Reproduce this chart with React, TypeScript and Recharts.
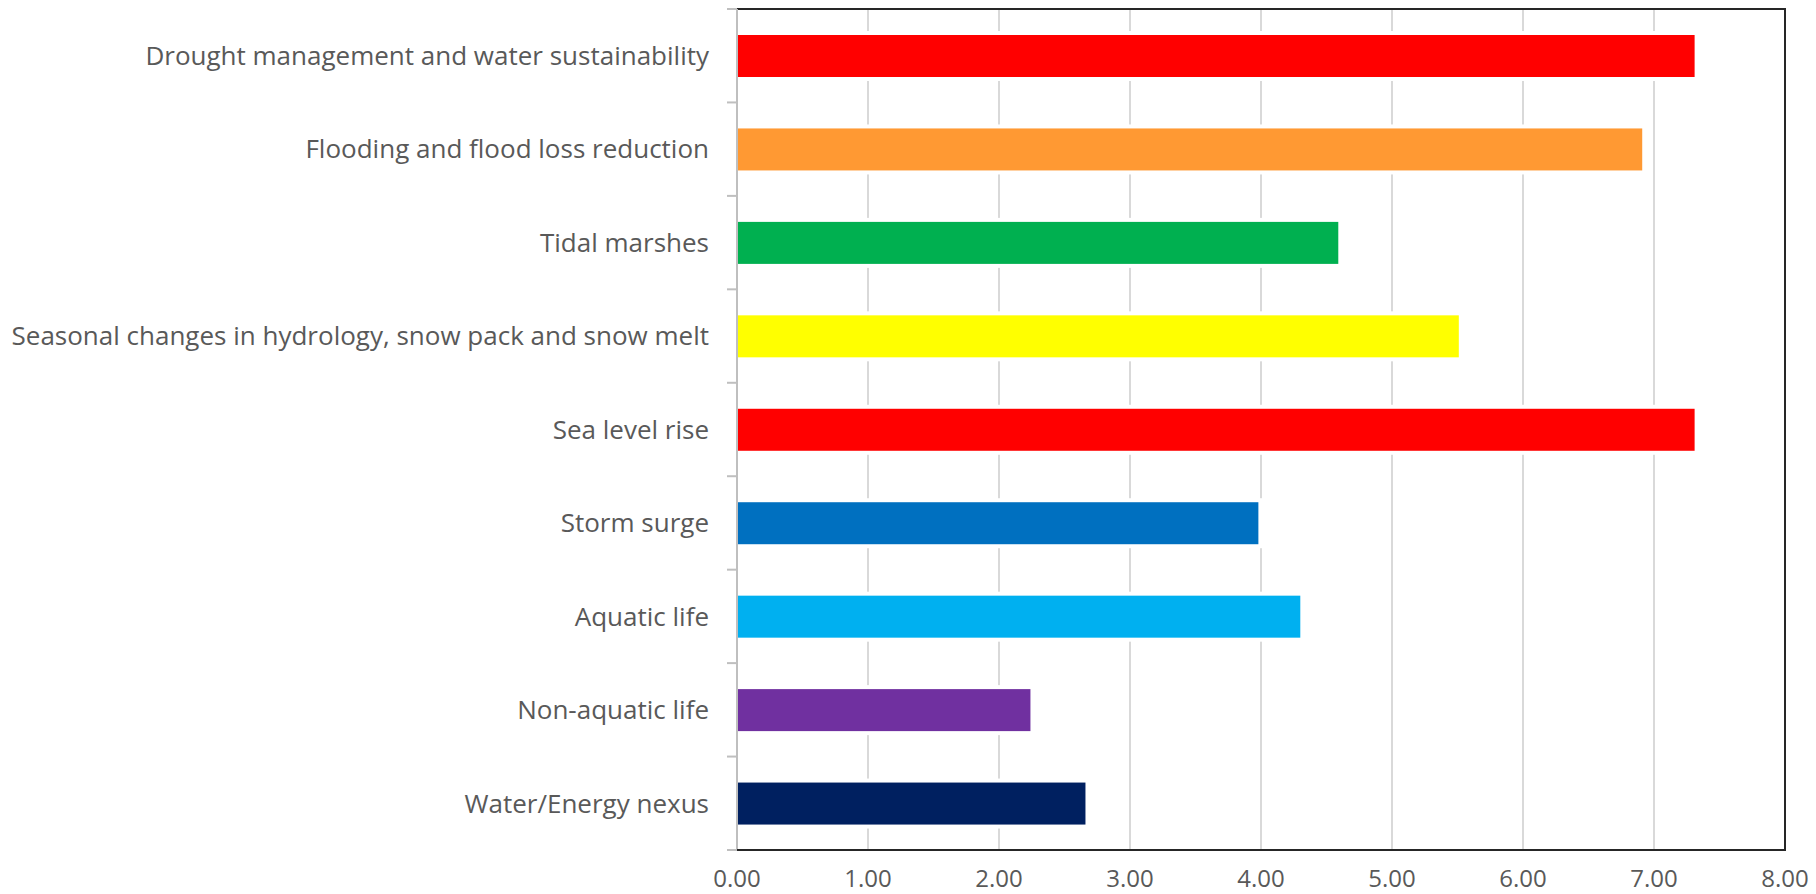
import React from 'react'
import {
  BarChart,
  Bar,
  Cell,
  XAxis,
  YAxis,
  CartesianGrid,
  ReferenceArea,
  ReferenceLine,
} from 'recharts'

// Climate concern topics, top to bottom
const topics = [
  'Drought management and water sustainability',
  'Flooding and flood loss reduction',
  'Tidal marshes',
  'Seasonal changes in hydrology, snow pack and snow melt',
  'Sea level rise',
  'Storm surge',
  'Aquatic life',
  'Non-aquatic life',
  'Water/Energy nexus',
]
const scores = [7.31, 6.91, 4.59, 5.51, 7.31, 3.98, 4.3, 2.24, 2.66]
const barColors = [
  '#FF0000',
  '#FF9933',
  '#00B050',
  '#FFFF00',
  '#FF0000',
  '#0070C0',
  '#00B0F0',
  '#7030A0',
  '#002060',
]
const scoreTicks = [0, 1, 2, 3, 4, 5, 6, 7, 8]

const data = topics.map((name, i) => ({ name, score: scores[i] }))

const labelColor = '#595959'
const axisGray = '#bfbfbf'
const frameColor = '#262626'
const TICK_GAP = 28 // label to axis distance
const TICK_LEN = 10 // boundary tick mark length

// category label plus the tick mark on the band boundary above it
const TopicTick = (props: any) => {
  const { x, y, payload, index, visibleTicksCount } = props
  const half = payload?.offset ?? 0
  const axisX = x + TICK_GAP
  return (
    <g>
      <line
        x1={axisX}
        x2={axisX - TICK_LEN}
        y1={y - half}
        y2={y - half}
        stroke={axisGray}
        strokeWidth={2}
      />
      {index === visibleTicksCount - 1 && (
        <line
          x1={axisX}
          x2={axisX - TICK_LEN}
          y1={y + half}
          y2={y + half}
          stroke={axisGray}
          strokeWidth={2}
        />
      )}
      <text x={x} y={y} dy="0.355em" textAnchor="end" fill={labelColor} fontSize={26}>
        {payload.value}
      </text>
    </g>
  )
}

// bar with a white halo so gridlines stop short of it
const HaloBar = (props: any) => {
  const { x, y, width, height, fill } = props
  if (width == null || height == null) return null
  return (
    <g>
      <rect x={x} y={y - 4} width={width + 4} height={height + 8} fill="#fff" />
      <rect x={x} y={y} width={width} height={height} fill={fill} />
    </g>
  )
}

export default function App() {
  return (
    <div
      style={{
        position: 'absolute',
        left: 0,
        top: 0,
        width: 1816,
        height: 894,
        background: '#fff',
        fontFamily: '"Open Sans", sans-serif',
      }}
    >
      <BarChart
        width={1816}
        height={894}
        data={data}
        layout="vertical"
        margin={{ top: 9, right: 31, bottom: 0, left: 0 }}
      >
        <CartesianGrid
          xAxisId="val"
          yAxisId="cat"
          horizontal={false}
          stroke="#d9d9d9"
          strokeWidth={2}
        />
        <YAxis
          yAxisId="cat"
          type="category"
          dataKey="name"
          width={737}
          interval={0}
          axisLine={false}
          tickLine={false}
          tickSize={0}
          tickMargin={TICK_GAP}
          tick={TopicTick}
        />
        <XAxis
          xAxisId="val"
          type="number"
          domain={[0, 8]}
          ticks={scoreTicks}
          height={44}
          tickLine={false}
          tickSize={0}
          tickMargin={20}
          tickFormatter={(v: number) => v.toFixed(2)}
          tick={{ fill: labelColor, fontSize: 24 }}
          stroke={frameColor}
          axisLine={{ stroke: frameColor, strokeWidth: 2 }}
        />
        <Bar
          xAxisId="val"
          yAxisId="cat"
          dataKey="score"
          barSize={42}
          shape={HaloBar}
          isAnimationActive={false}
        >
          {data.map((d, i) => (
            <Cell key={d.name} fill={barColors[i]} />
          ))}
        </Bar>
        {/* plot frame: dark top, right and bottom, grey value-zero axis on the left */}
        <ReferenceArea
          xAxisId="val"
          yAxisId="cat"
          x1={0}
          x2={8}
          fill="none"
          fillOpacity={0}
          stroke={frameColor}
          strokeWidth={2}
        />
        <ReferenceLine xAxisId="val" yAxisId="cat" x={0} stroke={axisGray} strokeWidth={2} />
      </BarChart>
    </div>
  )
}
